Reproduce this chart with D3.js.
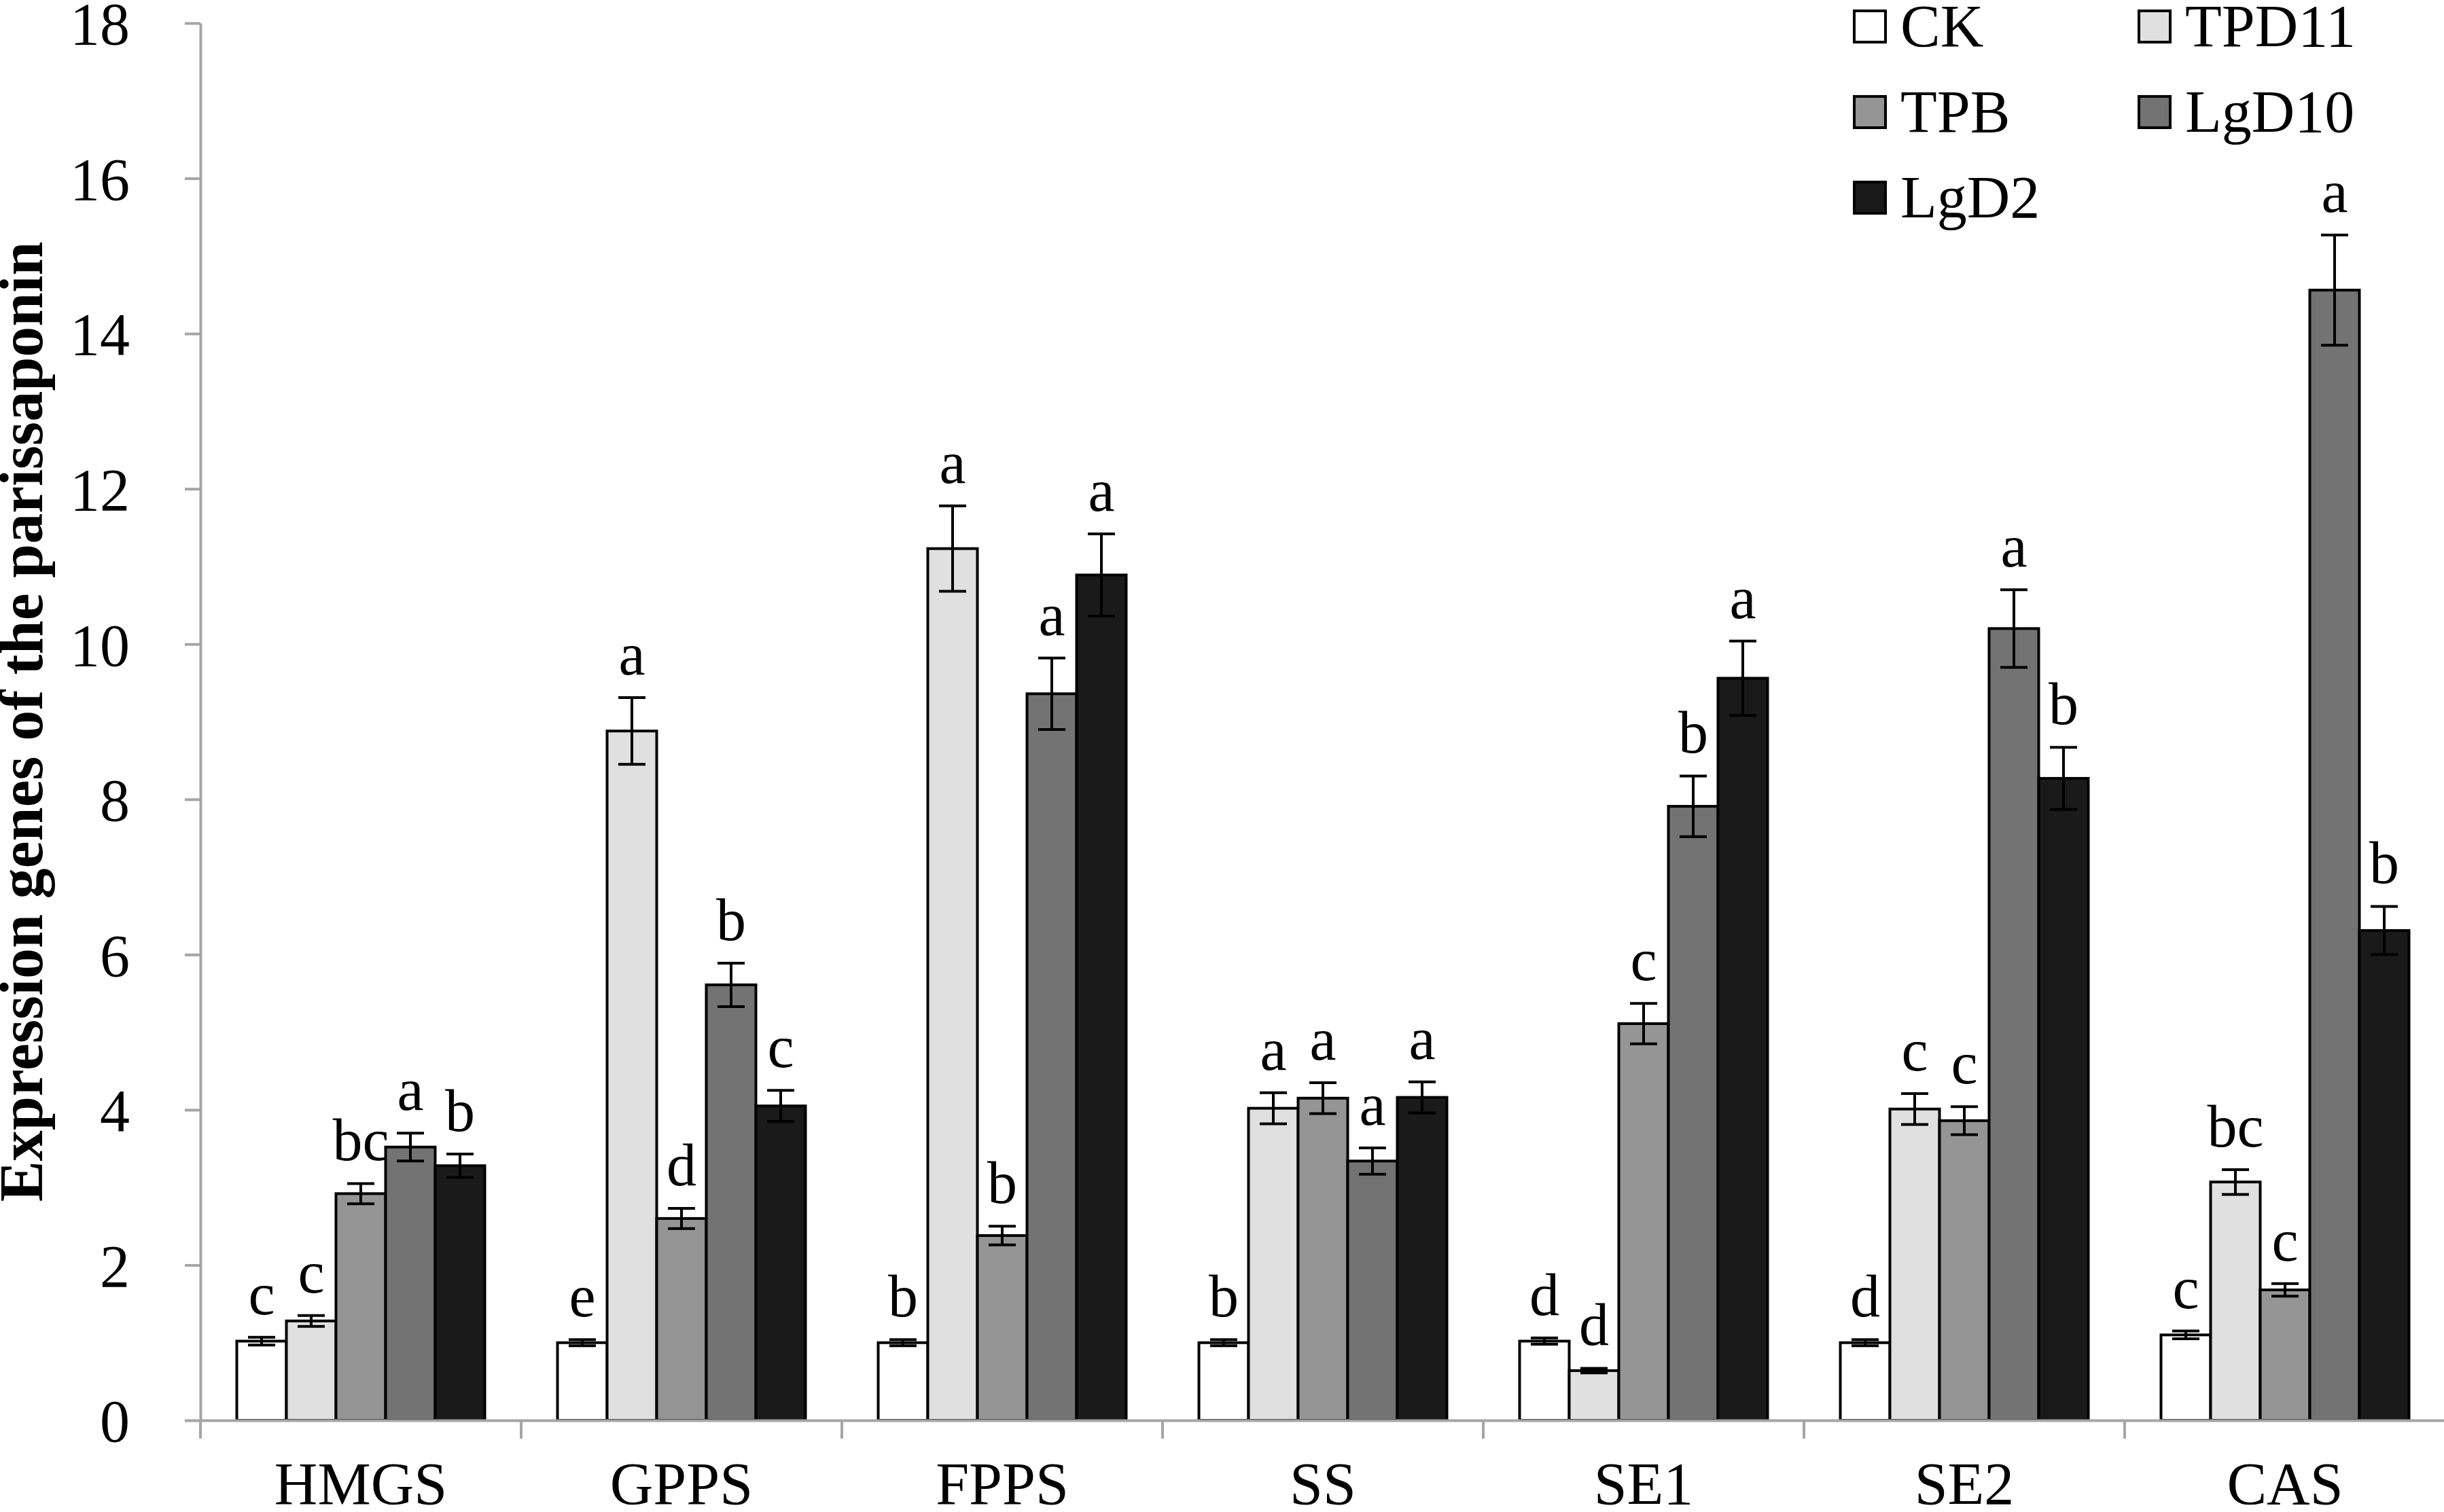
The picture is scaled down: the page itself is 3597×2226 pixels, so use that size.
<!DOCTYPE html>
<html>
<head>
<meta charset="utf-8">
<script src="https://cdn.jsdelivr.net/npm/d3@7"></script>
<style>
  body { margin: 0; background: #fff; }
  svg { display: block; }
  text { font-family: "Liberation Serif", "Times New Roman", serif; fill: #000; }
</style>
</head>
<body>
<script>
// data
const genes = ["HMGS", "GPPS", "FPPS", "SS", "SE1", "SE2", "CAS"];
const treatments = ["CK", "TPD11", "TPB", "LgD10", "LgD2"];

const meanCK    = [1.02, 1.00, 1.00, 1.00, 1.02, 1.00, 1.10];
const meanTPD11 = [1.28, 8.88, 11.23, 4.02, 0.64, 4.01, 3.07];
const meanTPB   = [2.92, 2.60, 2.38, 4.15, 5.11, 3.86, 1.68];
const meanLgD10 = [3.52, 5.61, 9.36, 3.34, 7.91, 10.20, 14.56];
const meanLgD2  = [3.28, 4.05, 10.89, 4.16, 9.56, 8.27, 6.31];

const errCK    = [0.05, 0.04, 0.04, 0.04, 0.04, 0.04, 0.05];
const errTPD11 = [0.07, 0.43, 0.55, 0.20, 0.03, 0.20, 0.16];
const errTPB   = [0.13, 0.13, 0.12, 0.20, 0.26, 0.18, 0.08];
const errLgD10 = [0.18, 0.28, 0.46, 0.17, 0.39, 0.50, 0.71];
const errLgD2  = [0.15, 0.20, 0.53, 0.20, 0.48, 0.40, 0.31];

const sigCK    = ["c", "e", "b", "b", "d", "d", "c"];
const sigTPD11 = ["c", "a", "a", "a", "d", "c", "bc"];
const sigTPB   = ["bc", "d", "b", "a", "c", "c", "c"];
const sigLgD10 = ["a", "b", "a", "a", "b", "a", "a"];
const sigLgD2  = ["b", "c", "a", "a", "a", "b", "b"];

const yTicks = [0, 2, 4, 6, 8, 10, 12, 14, 16, 18];
const colors = ["#ffffff", "#e0e0e0", "#959595", "#737373", "#1a1a1a"];

const means = [meanCK, meanTPD11, meanTPB, meanLgD10, meanLgD2];
const errs = [errCK, errTPD11, errTPB, errLgD10, errLgD2];
const sigs = [sigCK, sigTPD11, sigTPB, sigLgD10, sigLgD2];

const rows = [];
genes.forEach((g, gi) => {
  treatments.forEach((t, ti) => {
    rows.push({gene: g, trt: t, ti, value: means[ti][gi], err: errs[ti][gi], sig: sigs[ti][gi]});
  });
});

const width = 3597, height = 2226;
const axisColor = "#a5a5a5";
const fontSize = 88;

const svg = d3.select("body").append("svg")
    .attr("width", width)
    .attr("height", height);

const x0 = d3.scaleBand()
    .domain(genes)
    .range([295, 295 + 472 * genes.length]);

const x1 = d3.scaleBand()
    .domain(treatments)
    .range([0, x0.bandwidth()])
    .paddingOuter(0.733);

const y = d3.scaleLinear()
    .domain([0, 18])
    .range([2091, 34]);

const color = d3.scaleOrdinal().domain(treatments).range(colors);

// bars
const bars = svg.append("g")
  .selectAll("g")
  .data(rows)
  .join("g")
    .attr("transform", d => `translate(${x0(d.gene) + x1(d.trt)},0)`);

bars.append("rect")
    .attr("x", 0)
    .attr("width", x1.bandwidth())
    .attr("y", d => y(d.value))
    .attr("height", d => y(0) - y(d.value))
    .attr("fill", d => color(d.trt))
    .attr("stroke", "#000")
    .attr("stroke-width", 4);

// error bars
const cx = x1.bandwidth() / 2;
const cap = 20;
const eb = bars.append("g")
    .attr("stroke", "#000")
    .attr("stroke-width", 4);
eb.append("line")
    .attr("x1", cx).attr("x2", cx)
    .attr("y1", d => y(d.value + d.err))
    .attr("y2", d => y(d.value - d.err));
eb.append("line")
    .attr("x1", cx - cap).attr("x2", cx + cap)
    .attr("y1", d => y(d.value + d.err))
    .attr("y2", d => y(d.value + d.err));
eb.append("line")
    .attr("x1", cx - cap).attr("x2", cx + cap)
    .attr("y1", d => y(d.value - d.err))
    .attr("y2", d => y(d.value - d.err));

// significance letters
bars.append("text")
    .attr("x", cx)
    .attr("y", d => y(d.value + d.err) - 34)
    .attr("text-anchor", "middle")
    .style("font-size", fontSize + "px")
    .text(d => d.sig);

// y axis
const yAxis = svg.append("g")
    .attr("transform", "translate(295,0)")
    .call(d3.axisLeft(y).tickValues(yTicks).tickSize(23).tickSizeOuter(0).tickPadding(81));
yAxis.selectAll("path, line")
    .attr("stroke", axisColor)
    .attr("stroke-width", 4);
yAxis.selectAll("text")
    .attr("dy", "0.35em")
    .style("font-size", fontSize + "px")
    .style("font-family", "'Liberation Serif', 'Times New Roman', serif");

// x axis
const xAxis = svg.append("g")
    .attr("transform", `translate(0,${y(0)})`)
    .call(d3.axisBottom(x0).tickSize(0).tickSizeOuter(0));
xAxis.select(".domain")
    .attr("stroke", axisColor)
    .attr("stroke-width", 4);
xAxis.selectAll("text")
    .attr("y", 2214 - y(0))
    .attr("dy", null)
    .style("font-size", fontSize + "px")
    .style("font-family", "'Liberation Serif', 'Times New Roman', serif");

// category separators
const edges = genes.map(g => x0(g)).concat([x0.range()[1]]);
svg.append("g")
    .attr("stroke", axisColor)
    .attr("stroke-width", 4)
  .selectAll("line")
  .data(edges)
  .join("line")
    .attr("x1", d => d).attr("x2", d => d)
    .attr("y1", y(0)).attr("y2", y(0) + 27);

// y axis title
svg.append("text")
    .attr("transform", `translate(62,${(y(0) + y(18)) / 2}) rotate(-90)`)
    .attr("text-anchor", "middle")
    .style("font-size", "90px")
    .style("font-weight", "bold")
    .text("Expression genes of the parissaponin");

// legend
const legendX = [2729, 3148];
const legend = svg.append("g")
  .selectAll("g")
  .data(treatments)
  .join("g")
    .attr("transform", (d, i) => `translate(${legendX[i % 2]},${39 + Math.floor(i / 2) * 126})`);

legend.append("rect")
    .attr("x", 0)
    .attr("y", -23)
    .attr("width", 46)
    .attr("height", 46)
    .attr("fill", d => color(d))
    .attr("stroke", "#000")
    .attr("stroke-width", 4);

legend.append("text")
    .attr("x", 68)
    .attr("y", 29)
    .style("font-size", fontSize + "px")
    .text(d => d);
</script>
</body>
</html>
